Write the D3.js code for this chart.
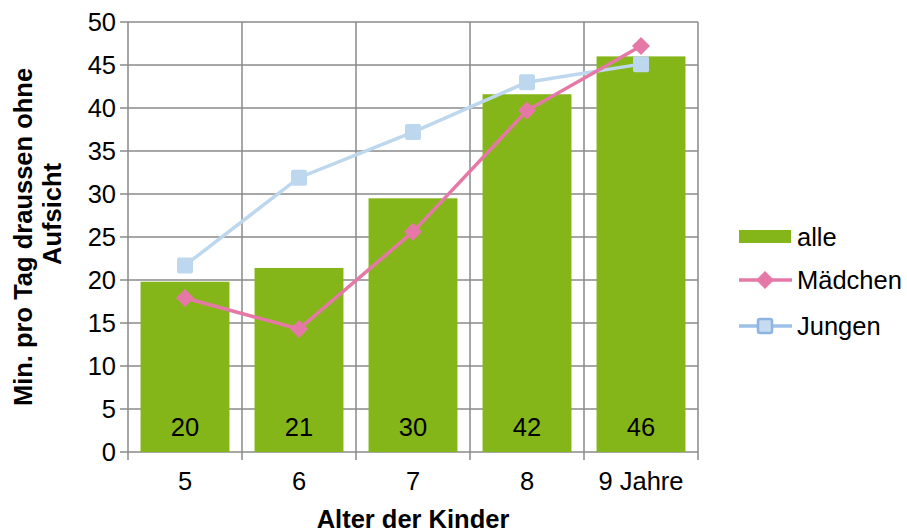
<!DOCTYPE html>
<html>
<head>
<meta charset="utf-8">
<script src="https://cdn.jsdelivr.net/npm/d3@7"></script>
<style>
  body { margin: 0; background: #fff; }
  svg text { font-family: "Liberation Sans", Arial, sans-serif; fill: #000; }
</style>
</head>
<body>
<svg id="chart" width="907" height="532"></svg>
<script>
// data
var categories = ["5", "6", "7", "8", "9 Jahre"];
var alle = [19.8, 21.4, 29.5, 41.6, 46.0];
var alleLabels = ["20", "21", "30", "42", "46"];
var maedchen = [17.9, 14.3, 25.6, 39.7, 47.2];
var jungen = [21.7, 31.9, 37.2, 43.0, 45.1];
var yTicks = [0, 5, 10, 15, 20, 25, 30, 35, 40, 45, 50];

(function () {
    "use strict";

    var left = 128, right = 698, top = 22, bottom = 452;
    var fs = "25.5px";
    var svg = d3.select("#chart");

    var x = d3.scaleBand().domain(categories).range([left, right])
        .paddingInner(0.22).paddingOuter(0.11);
    var xCat = d3.scaleBand().domain(categories).range([left, right]);
    var y = d3.scaleLinear().domain([0, 50]).range([bottom, top]);

    var grid = "#8a8a8a";

    // horizontal gridlines
    svg.append("g").selectAll("line").data(yTicks).enter().append("line")
        .attr("x1", left - 8).attr("x2", right)
        .attr("y1", function (d) { return y(d); })
        .attr("y2", function (d) { return y(d); })
        .attr("stroke", grid).attr("stroke-width", 1.5);

    // vertical gridlines on category boundaries
    var bounds = categories.map(function (c) { return xCat(c); }).concat([right]);
    svg.append("g").selectAll("line").data(bounds).enter().append("line")
        .attr("x1", function (d) { return d; })
        .attr("x2", function (d) { return d; })
        .attr("y1", top).attr("y2", bottom + 8)
        .attr("stroke", grid).attr("stroke-width", 1.5);

    // y tick labels
    svg.append("g").selectAll("text").data(yTicks).enter().append("text")
        .attr("x", left - 12)
        .attr("y", function (d) { return y(d); })
        .attr("dy", "0.35em")
        .attr("text-anchor", "end")
        .style("font-size", fs)
        .text(function (d) { return d; });

    // bars
    svg.append("g").selectAll("rect").data(alle).enter().append("rect")
        .attr("x", function (d, i) { return x(categories[i]); })
        .attr("width", x.bandwidth())
        .attr("y", function (d) { return y(d); })
        .attr("height", function (d) { return bottom - y(d); })
        .attr("fill", "#85b619");

    // bar value labels
    svg.append("g").selectAll("text").data(alleLabels).enter().append("text")
        .attr("x", function (d, i) { return x(categories[i]) + x.bandwidth() / 2; })
        .attr("y", y(2.9))
        .attr("dy", "0.35em")
        .attr("text-anchor", "middle")
        .style("font-size", fs)
        .text(function (d) { return d; });

    var cx = function (d, i) { return xCat(categories[i]) + xCat.bandwidth() / 2; };
    var line = d3.line().x(cx).y(function (d) { return y(d); });

    // Jungen
    svg.append("path").datum(jungen)
        .attr("d", line).attr("fill", "none")
        .attr("stroke", "#bdd7ee").attr("stroke-width", 3.5);
    svg.append("g").selectAll("rect").data(jungen).enter().append("rect")
        .attr("x", function (d, i) { return cx(d, i) - 8; })
        .attr("y", function (d) { return y(d) - 8; })
        .attr("width", 16).attr("height", 16).attr("rx", 2)
        .attr("fill", "#bdd7ee");

    // Mädchen
    svg.append("path").datum(maedchen)
        .attr("d", line).attr("fill", "none")
        .attr("stroke", "#e678a8").attr("stroke-width", 3.5);
    svg.append("g").selectAll("path.dia").data(maedchen).enter().append("path")
        .attr("transform", function (d, i) { return "translate(" + cx(d, i) + "," + y(d) + ")"; })
        .attr("d", "M0,-9L9,0L0,9L-9,0Z")
        .attr("fill", "#e678a8");

    // x tick labels
    svg.append("g").selectAll("text").data(categories).enter().append("text")
        .attr("x", function (d) { return xCat(d) + xCat.bandwidth() / 2; })
        .attr("y", 490)
        .attr("text-anchor", "middle")
        .style("font-size", fs)
        .text(function (d) { return d; });

    // axis titles
    svg.append("text")
        .attr("x", 413).attr("y", 528)
        .attr("text-anchor", "middle")
        .style("font-size", fs).style("font-weight", "bold")
        .text("Alter der Kinder");

    var yt = svg.append("g").attr("transform", "rotate(-90)")
        .style("font-size", fs).style("font-weight", "bold");
    yt.append("text").attr("x", -237).attr("y", 32).attr("text-anchor", "middle")
        .text("Min. pro Tag draussen ohne");
    yt.append("text").attr("x", -214).attr("y", 61).attr("text-anchor", "middle")
        .text("Aufsicht");

    // legend
    var lg = svg.append("g");
    lg.append("rect").attr("x", 739).attr("y", 230).attr("width", 52).attr("height", 13)
        .attr("fill", "#85b619");
    lg.append("text").attr("x", 797).attr("y", 237).attr("dy", "0.35em")
        .style("font-size", fs).text("alle");

    lg.append("line").attr("x1", 739).attr("x2", 792).attr("y1", 280).attr("y2", 280)
        .attr("stroke", "#e678a8").attr("stroke-width", 3.5);
    lg.append("path").attr("transform", "translate(765,280)")
        .attr("d", "M0,-9L9,0L0,9L-9,0Z").attr("fill", "#e678a8");
    lg.append("text").attr("x", 797).attr("y", 280).attr("dy", "0.35em")
        .style("font-size", fs).text("Mädchen");

    lg.append("line").attr("x1", 739).attr("x2", 792).attr("y1", 326).attr("y2", 326)
        .attr("stroke", "#9dc0e8").attr("stroke-width", 3.5);
    lg.append("rect").attr("x", 758).attr("y", 319).attr("width", 14).attr("height", 14)
        .attr("rx", 2).attr("fill", "#c6dbf0").attr("stroke", "#8db4e2").attr("stroke-width", 2.5);
    lg.append("text").attr("x", 797).attr("y", 326).attr("dy", "0.35em")
        .style("font-size", fs).text("Jungen");
}());
</script>
</body>
</html>
